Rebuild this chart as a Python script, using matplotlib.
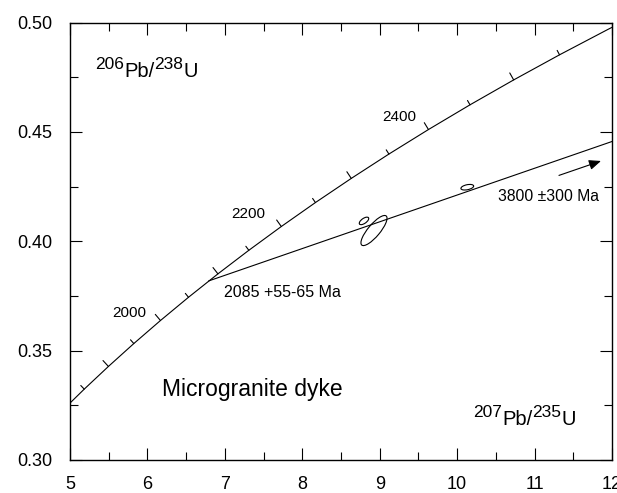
import numpy as np
import matplotlib
matplotlib.use('Agg')
import matplotlib.pyplot as plt
from matplotlib.patches import Ellipse
from matplotlib.transforms import ScaledTranslation
from matplotlib.ticker import MultipleLocator, FormatStrFormatter

plt.rcParams['font.family'] = ['Liberation Sans', 'DejaVu Sans']

# concordia points (Ma), every 50 Ma
ages = [1800, 1850, 1900, 1950, 2000, 2050, 2100, 2150, 2200,
        2250, 2300, 2350, 2400, 2450, 2500, 2550, 2600, 2650]
conc_x = [4.8869, 5.1840, 5.4962, 5.8241, 6.1685, 6.5304, 6.9104, 7.3097, 7.7292,
          8.1698, 8.6327, 9.1187, 9.6295, 10.1662, 10.7300, 11.3224, 11.9446, 12.5982]
conc_y = [0.32211, 0.33240, 0.34277, 0.35323, 0.36377, 0.37439, 0.38509, 0.39587, 0.40674,
          0.41769, 0.42873, 0.43986, 0.45107, 0.46237, 0.47375, 0.48523, 0.49679, 0.50845]
tick_ages = [1850, 1900, 1950, 2000, 2050, 2100, 2150, 2200,
             2250, 2300, 2350, 2400, 2450, 2500, 2550]
label_ages = [2000, 2200, 2400]
label_x = [5.551, 7.088, 9.038]
label_y = [0.3655, 0.4105, 0.4551]

# discordia line
disc_x = [6.794, 12.0]
disc_y = [0.3819, 0.4456]

# analyses (ellipse centres)
ell_x = [8.926, 8.797, 10.131]
ell_y = [0.4049, 0.4093, 0.4247]

fig = plt.figure(figsize=(6.17, 4.93), dpi=100)
ax = fig.add_axes([70/617, 1-460/493, 542/617, 437.5/493])
ax.set_xlim(5, 12)
ax.set_ylim(0.30, 0.50)
ax.xaxis.set_major_locator(MultipleLocator(1))
ax.xaxis.set_minor_locator(MultipleLocator(0.5))
ax.yaxis.set_major_locator(MultipleLocator(0.05))
ax.yaxis.set_minor_locator(MultipleLocator(0.025))
ax.yaxis.set_major_formatter(FormatStrFormatter('%.2f'))
ax.tick_params(which='both', direction='in', top=True, right=True, width=0.8, labelsize=13)
ax.tick_params(which='major', length=8.3)
ax.tick_params(which='minor', length=5.8)
ax.tick_params(axis='y', pad=13)
ax.tick_params(axis='x', pad=11.5)
for sp in ax.spines.values():
    sp.set_linewidth(1.0)

# concordia + age ticks
ax.plot(conc_x, conc_y, color='k', lw=0.8)
pts = ax.transData.transform(np.column_stack([conc_x, conc_y]))
for i in range(1, len(ages) - 1):
    if ages[i] not in tick_ages:
        continue
    d = pts[i+1] - pts[i-1]
    d = d / np.hypot(d[0], d[1])
    L = (8 if ages[i] % 100 == 0 else 5) * 0.72
    ax.annotate('', xy=(conc_x[i], conc_y[i]), xytext=(-d[1]*L, d[0]*L),
                textcoords='offset points',
                arrowprops=dict(arrowstyle='-', lw=0.8, color='k', shrinkA=0, shrinkB=0))
for a, x, y in zip(label_ages, label_x, label_y):
    ax.text(x, y, str(a), fontsize=11, va='baseline', ha='left')

# discordia
ax.plot(disc_x, disc_y, color='k', lw=0.8)

# error ellipses (w, h in px, angle)
shapes = [(38, 12, 50), (11, 5, 35), (13, 5, 12)]
for x, y, (w, h, ang) in zip(ell_x, ell_y, shapes):
    e = Ellipse((0, 0), w/100, h/100, angle=ang, fill=False, lw=0.8, color='k',
                transform=fig.dpi_scale_trans + ScaledTranslation(x, y, ax.transData))
    ax.add_patch(e)

ax.text(6.993, 0.3747, '2085 +55-65 Ma', fontsize=11.5, va='baseline', ha='left')
ax.text(10.532, 0.4185, '3800 \u00b1300 Ma', fontsize=11.3, va='baseline', ha='left')
ax.annotate('', xy=(11.858, 0.4367), xytext=(11.315, 0.4301),
            arrowprops=dict(arrowstyle='-|>,head_length=0.6,head_width=0.25',
                            mutation_scale=12, lw=0.8, color='k', shrinkA=0, shrinkB=0))
ax.text(6.192, 0.3293, 'Microgranite dyke', fontsize=16.5, va='baseline', ha='left')

# isotope ratio labels
renderer = fig.canvas.get_renderer()
def iso(x, y, parts):
    off = 0
    for s, size, rise in parts:
        t = ax.annotate(s, xy=(x, y), xytext=(off, rise), textcoords='offset points',
                        fontsize=size, va='baseline', ha='left')
        off += t.get_window_extent(renderer).width * 72 / fig.dpi

iso(5.323, 0.4751, [('206', 12.5, 5.5), ('Pb/', 14.5, 0), ('238', 12.5, 5.5), ('U', 14.5, 0)])
iso(10.209, 0.316, [('207', 12.5, 5.5), ('Pb/', 14.5, 0), ('235', 12.5, 5.5), ('U', 14.5, 0)])

fig.savefig('out.png', dpi=100)
